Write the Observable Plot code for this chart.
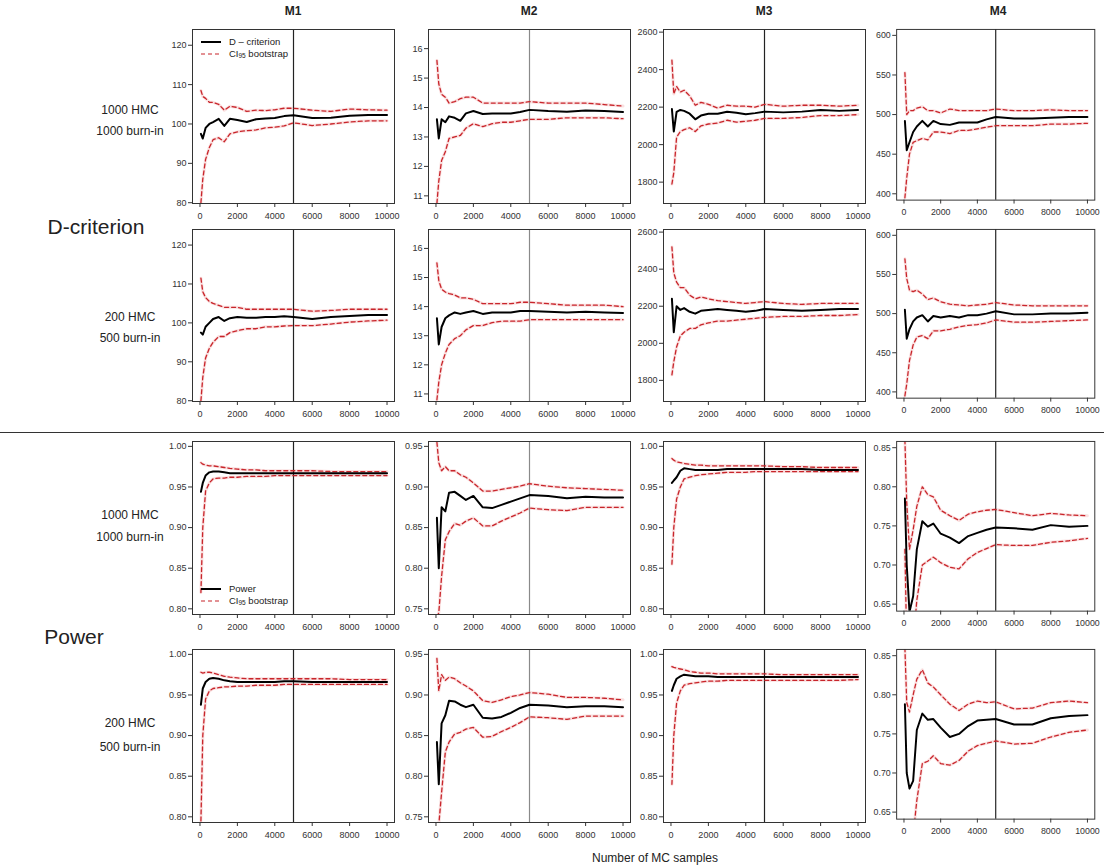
<!DOCTYPE html>
<html>
<head>
<meta charset="utf-8">
<script src="https://cdn.jsdelivr.net/npm/d3@7"></script>
<script src="https://cdn.jsdelivr.net/npm/@observablehq/plot@0.6"></script>
<style>
  html, body { margin: 0; padding: 0; background: #fff; }
  #wrap { position: relative; width: 1110px; height: 867px; overflow: hidden; font-family: "Liberation Sans", Arial, sans-serif; color: #222; }
  .abs { position: absolute; white-space: nowrap; }
  .ct { transform: translate(-50%, -50%); }
  .coltitle { font-weight: bold; font-size: 12px; }
  .rowlab { font-size: 12px; color: #222; }
  .big { font-size: 21px; color: #222; }
  .leg { font-size: 9.5px; color: #222; display: flex; align-items: center; height: 11px; }
  .leg svg { margin-right: 8px; }
  .sub { font-size: 6.5px; position: relative; top: 2px; }
  .panel { position: absolute; }
</style>
</head>
<body>
<div id="wrap"></div>
<script>
// ---------------- DATA ----------------
const xs = [50,150,300,500,700,1000,1300,1600,2000,2500,3000,3500,4000,4500,5000,6000,7000,8000,9000,10000];
const xTickValues = [0,2000,4000,6000,8000,10000];
const models = ["M1","M2","M3","M4"];
const rowLabels = [["1000 HMC","1000 burn-in"],["200 HMC","500 burn-in"],["1000 HMC","1000 burn-in"],["200 HMC","500 burn-in"]];

// D-criterion, 1000 HMC / 1000 burn-in
const D1000_M1_est = [97.5,96.3,99,100,100.5,101.3,99.5,101.3,101,100.5,101.2,101.4,101.5,102,102.2,101.5,101.6,102.1,102.3,102.3];
const D1000_M1_hi  = [108.5,107,106.5,105.5,105.5,105,103.5,104.5,104.2,103.2,103.5,103.4,103.6,104,104,103.5,103.2,103.8,103.6,103.5];
const D1000_M1_lo  = [80,86,91,94,96,96.5,95.5,97.5,98,98.3,98.5,99,99.2,99.5,100.3,99.6,100,100.5,100.8,100.8];
const D1000_M2_est = [13.6,12.95,13.6,13.5,13.7,13.65,13.55,13.8,13.88,13.78,13.8,13.8,13.8,13.85,13.92,13.88,13.86,13.9,13.88,13.85];
const D1000_M2_hi  = [15.6,14.8,14.45,14.35,14.15,14.2,14.3,14.35,14.35,14.15,14.15,14.15,14.15,14.15,14.2,14.15,14.15,14.15,14.1,14.05];
const D1000_M2_lo  = [10.75,11.5,12.2,12.5,12.95,13.0,13.05,13.3,13.45,13.35,13.45,13.5,13.5,13.55,13.6,13.6,13.65,13.65,13.65,13.62];
const D1000_M3_est = [2190,2070,2175,2185,2180,2165,2135,2155,2165,2165,2175,2170,2162,2168,2176,2172,2176,2185,2180,2185];
const D1000_M3_hi  = [2450,2270,2310,2280,2290,2260,2210,2225,2215,2195,2210,2205,2205,2200,2215,2205,2210,2210,2205,2210];
const D1000_M3_lo  = [1790,1850,2040,2070,2080,2090,2070,2100,2110,2115,2130,2120,2125,2130,2140,2140,2145,2155,2155,2160];
const D1000_M4_est = [492,455,465,478,485,492,485,492,488,487,490,490,490,494,497,495,495,496,497,497];
const D1000_M4_hi  = [553,500,505,505,508,510,505,505,502,507,505,505,505,505,507,505,505,506,505,505];
const D1000_M4_lo  = [395,420,450,465,467,470,468,478,478,476,480,480,482,484,486,486,486,488,488,489];

// D-criterion, 200 HMC / 500 burn-in
const D200_M1_est = [97.5,97,99,100,101,101.5,100.5,101.2,101.5,101.3,101.3,101.5,101.5,101.7,101.5,101,101.5,101.8,102,102];
const D200_M1_hi  = [111.5,108,106.5,105.5,105,104.5,104,104,104,103.5,103.5,103.5,103.5,103.5,103.5,103,103.2,103.5,103.5,103.5];
const D200_M1_lo  = [80,86,91,93.5,95,96.5,96.5,97.5,98,98.5,98.5,99,99,99.2,99.3,99.3,99.7,100.2,100.5,100.7];
const D200_M2_est = [13.6,12.7,13.3,13.6,13.7,13.8,13.75,13.8,13.85,13.75,13.8,13.8,13.8,13.85,13.85,13.82,13.8,13.82,13.8,13.78];
const D200_M2_hi  = [15.5,14.9,14.6,14.5,14.45,14.4,14.3,14.3,14.25,14.1,14.1,14.1,14.1,14.15,14.15,14.1,14.05,14.05,14.05,14.0];
const D200_M2_lo  = [10.8,11.4,12.0,12.4,12.7,12.9,13.0,13.2,13.35,13.35,13.45,13.5,13.5,13.5,13.55,13.55,13.55,13.55,13.55,13.55];
const D200_M3_est = [2240,2060,2200,2180,2190,2170,2160,2175,2180,2185,2180,2175,2170,2175,2185,2180,2175,2180,2185,2185];
const D200_M3_hi  = [2520,2380,2330,2300,2300,2260,2240,2250,2240,2230,2225,2220,2215,2220,2225,2215,2210,2215,2215,2215];
const D200_M3_lo  = [1830,1900,1980,2040,2060,2080,2080,2100,2110,2120,2120,2125,2130,2135,2140,2145,2145,2150,2150,2155];
const D200_M4_est = [505,468,480,490,495,498,490,497,495,497,495,498,498,500,503,499,499,500,500,501];
const D200_M4_hi  = [570,545,530,528,530,525,518,520,515,512,511,510,511,512,514,511,510,510,510,510];
const D200_M4_lo  = [395,410,440,460,470,472,468,478,478,480,483,485,486,488,492,489,489,490,491,492];

// Power, 1000 HMC / 1000 burn-in
const P1000_M1_est = [0.944,0.955,0.964,0.968,0.969,0.969,0.968,0.967,0.967,0.967,0.967,0.967,0.967,0.967,0.967,0.967,0.967,0.967,0.967,0.967];
const P1000_M1_hi  = [0.980,0.978,0.977,0.976,0.976,0.975,0.974,0.973,0.972,0.971,0.971,0.970,0.970,0.970,0.970,0.970,0.969,0.969,0.969,0.969];
const P1000_M1_lo  = [0.820,0.900,0.945,0.955,0.960,0.961,0.961,0.962,0.962,0.963,0.963,0.963,0.964,0.964,0.964,0.964,0.964,0.964,0.964,0.964];
const P1000_M2_est = [0.862,0.800,0.875,0.870,0.893,0.894,0.889,0.884,0.889,0.875,0.874,0.878,0.882,0.886,0.890,0.889,0.886,0.888,0.887,0.887];
const P1000_M2_hi  = [0.955,0.930,0.920,0.925,0.920,0.920,0.915,0.912,0.905,0.895,0.895,0.897,0.899,0.901,0.904,0.901,0.899,0.898,0.897,0.896];
const P1000_M2_lo  = [0.740,0.745,0.790,0.835,0.845,0.855,0.853,0.858,0.862,0.852,0.852,0.858,0.863,0.868,0.874,0.872,0.871,0.875,0.875,0.875];
const P1000_M3_est = [0.955,0.958,0.962,0.970,0.973,0.972,0.971,0.971,0.971,0.971,0.972,0.972,0.972,0.972,0.972,0.972,0.972,0.971,0.971,0.971];
const P1000_M3_hi  = [0.985,0.983,0.981,0.980,0.979,0.978,0.977,0.977,0.976,0.976,0.976,0.976,0.976,0.976,0.976,0.975,0.975,0.974,0.974,0.974];
const P1000_M3_lo  = [0.855,0.900,0.935,0.950,0.960,0.962,0.964,0.965,0.966,0.967,0.968,0.968,0.968,0.969,0.969,0.969,0.969,0.969,0.969,0.969];
const P1000_M4_est = [0.785,0.700,0.640,0.660,0.720,0.756,0.749,0.753,0.740,0.735,0.728,0.737,0.741,0.745,0.748,0.747,0.745,0.751,0.749,0.750];
const P1000_M4_hi  = [0.860,0.780,0.720,0.745,0.775,0.800,0.790,0.787,0.770,0.763,0.757,0.765,0.768,0.770,0.771,0.767,0.763,0.766,0.764,0.763];
const P1000_M4_lo  = [0.720,0.600,0.600,0.600,0.655,0.700,0.705,0.710,0.703,0.697,0.695,0.708,0.716,0.721,0.726,0.725,0.725,0.729,0.731,0.734];

// Power, 200 HMC / 500 burn-in
const P200_M1_est = [0.938,0.958,0.966,0.970,0.971,0.970,0.968,0.967,0.966,0.966,0.966,0.966,0.966,0.967,0.967,0.966,0.966,0.966,0.966,0.966];
const P200_M1_hi  = [0.978,0.977,0.978,0.978,0.977,0.975,0.973,0.972,0.971,0.970,0.970,0.970,0.970,0.970,0.970,0.970,0.970,0.969,0.969,0.969];
const P200_M1_lo  = [0.795,0.900,0.945,0.955,0.958,0.959,0.960,0.960,0.961,0.961,0.962,0.962,0.962,0.963,0.963,0.963,0.963,0.963,0.963,0.963];
const P200_M2_est = [0.842,0.790,0.865,0.875,0.893,0.892,0.888,0.885,0.888,0.872,0.871,0.873,0.878,0.884,0.888,0.887,0.885,0.886,0.886,0.885];
const P200_M2_hi  = [0.945,0.905,0.925,0.918,0.922,0.920,0.915,0.911,0.905,0.893,0.891,0.894,0.898,0.900,0.903,0.901,0.897,0.897,0.896,0.894];
const P200_M2_lo  = [0.740,0.740,0.780,0.830,0.842,0.852,0.854,0.858,0.860,0.848,0.849,0.855,0.860,0.866,0.873,0.872,0.870,0.874,0.874,0.874];
const P200_M3_est = [0.955,0.962,0.970,0.973,0.975,0.974,0.973,0.973,0.973,0.972,0.972,0.972,0.972,0.972,0.972,0.972,0.972,0.972,0.972,0.972];
const P200_M3_hi  = [0.985,0.984,0.983,0.982,0.981,0.979,0.978,0.977,0.977,0.976,0.976,0.976,0.976,0.976,0.976,0.975,0.975,0.975,0.975,0.975];
const P200_M3_lo  = [0.840,0.900,0.940,0.955,0.962,0.964,0.965,0.966,0.967,0.967,0.968,0.968,0.968,0.968,0.968,0.968,0.968,0.968,0.968,0.969];
const P200_M4_est = [0.788,0.700,0.680,0.690,0.755,0.776,0.768,0.769,0.758,0.746,0.750,0.760,0.767,0.768,0.769,0.762,0.762,0.770,0.773,0.774];
const P200_M4_hi  = [0.860,0.790,0.778,0.800,0.820,0.832,0.815,0.810,0.800,0.788,0.780,0.788,0.792,0.790,0.791,0.782,0.783,0.790,0.792,0.790];
const P200_M4_lo  = [0.600,0.600,0.600,0.620,0.665,0.712,0.715,0.722,0.712,0.710,0.716,0.728,0.735,0.738,0.741,0.737,0.738,0.746,0.752,0.755];

// y tick values per model (D-criterion rows, Power rows)
const dTicks = [[80,90,100,110,120],[11,12,13,14,15,16],[1800,2000,2200,2400,2600],[400,450,500,550,600]];
const pTicks = [[0.80,0.85,0.90,0.95,1.00],[0.75,0.80,0.85,0.90,0.95],[0.80,0.85,0.90,0.95,1.00],[0.65,0.70,0.75,0.80,0.85]];
const dDomains = [[79.8,124],[10.74,16.65],[1686,2614],[392,607.5]];
const pDomains = [[0.793,1.006],[0.743,0.956],[0.793,1.006],[0.641,0.858]];

// ---------------- LAYOUT ----------------
const colLeft = [192, 428, 663, 897];
const frameW = 202;
const rowTop = [29, 229, 441, 649];
const rowH = [174, 172, 173, 173];
const ML = 45, MR = 16, MT = 3, MB = 28;

const wrap = document.getElementById("wrap");
const FONT = "'Liberation Sans', Arial, sans-serif";

function panel(est, lo, hi, domain, yTicks, fmt, ruleColor, w, h) {
  const data = xs.map((x, i) => ({x, est: est[i], lo: lo[i], hi: hi[i]}));
  const red = "#c8252b", halo = "#fae1e1";
  return Plot.plot({
    width: w + ML + MR,
    height: h + MT + MB,
    marginLeft: ML, marginRight: MR, marginTop: MT, marginBottom: MB,
    x: {domain: [-400, 10400], axis: null},
    y: {domain, axis: null},
    style: {fontFamily: FONT, fontSize: "9px", color: "#333", background: "transparent", overflow: "visible"},
    marks: [
      Plot.lineY(data, {x: "x", y: "hi", stroke: halo, strokeWidth: 3, clip: true}),
      Plot.lineY(data, {x: "x", y: "lo", stroke: halo, strokeWidth: 3, clip: true}),
      Plot.ruleX([5000], {stroke: ruleColor, strokeWidth: 1.2}),
      Plot.lineY(data, {x: "x", y: "hi", stroke: red, strokeWidth: 1.3, strokeDasharray: "4,3", clip: true}),
      Plot.lineY(data, {x: "x", y: "lo", stroke: red, strokeWidth: 1.3, strokeDasharray: "4,3", clip: true}),
      Plot.lineY(data, {x: "x", y: "est", stroke: "#000", strokeWidth: 2, clip: true}),
      Plot.frame({stroke: "#333", strokeWidth: 1}),
      Plot.axisX(xTickValues, {tickSize: 4, tickPadding: 5, tickFormat: d => String(d), label: null, stroke: "#333", fill: "#333"}),
      Plot.axisY(yTicks, {tickSize: 4, tickPadding: 2, tickFormat: fmt, label: null, stroke: "#333", fill: "#333"})
    ]
  });
}

const allData = {
  D1000: [[D1000_M1_est,D1000_M1_lo,D1000_M1_hi],[D1000_M2_est,D1000_M2_lo,D1000_M2_hi],[D1000_M3_est,D1000_M3_lo,D1000_M3_hi],[D1000_M4_est,D1000_M4_lo,D1000_M4_hi]],
  D200:  [[D200_M1_est,D200_M1_lo,D200_M1_hi],[D200_M2_est,D200_M2_lo,D200_M2_hi],[D200_M3_est,D200_M3_lo,D200_M3_hi],[D200_M4_est,D200_M4_lo,D200_M4_hi]],
  P1000: [[P1000_M1_est,P1000_M1_lo,P1000_M1_hi],[P1000_M2_est,P1000_M2_lo,P1000_M2_hi],[P1000_M3_est,P1000_M3_lo,P1000_M3_hi],[P1000_M4_est,P1000_M4_lo,P1000_M4_hi]],
  P200:  [[P200_M1_est,P200_M1_lo,P200_M1_hi],[P200_M2_est,P200_M2_lo,P200_M2_hi],[P200_M3_est,P200_M3_lo,P200_M3_hi],[P200_M4_est,P200_M4_lo,P200_M4_hi]]
};
const rowKeys = ["D1000","D200","P1000","P200"];

rowKeys.forEach((key, r) => {
  const isD = r < 2;
  for (let c = 0; c < 4; c++) {
    const [est, lo, hi] = allData[key][c];
    const domain = isD ? dDomains[c] : pDomains[c];
    const ticks = isD ? dTicks[c] : pTicks[c];
    const fmt = isD ? (d => String(d)) : (d => d.toFixed(2));
    const ruleColor = c === 1 ? "#8a8a8a" : "#222";
    const svg = panel(est, lo, hi, domain, ticks, fmt, ruleColor, frameW, rowH[r]);
    const div = document.createElement("div");
    div.className = "panel";
    div.style.left = (colLeft[c] - ML) + "px";
    div.style.top = (rowTop[r] - MT) + "px";
    div.appendChild(svg);
    wrap.appendChild(div);
  }
});

function addText(text, x, y, cls) {
  const d = document.createElement("div");
  d.className = "abs ct " + cls;
  d.style.left = x + "px";
  d.style.top = y + "px";
  d.textContent = text;
  wrap.appendChild(d);
}

// column titles
models.forEach((m, c) => addText(m, colLeft[c] + frameW / 2, 11, "coltitle"));

// row labels
const rowLabelY = [[110,131],[317,338],[515,537],[723,747]];
rowLabels.forEach((lab, r) => {
  addText(lab[0], 130, rowLabelY[r][0], "rowlab");
  addText(lab[1], 130, rowLabelY[r][1], "rowlab");
});

addText("D-criterion", 96, 227, "big");
addText("Power", 74, 637, "big");
addText("Number of MC samples", 655, 858, "rowlab");

// separator line
const sep = document.createElement("div");
sep.className = "abs";
sep.style.cssText = "left:0px;top:432px;width:1104px;height:0;border-top:1px solid #333;";
wrap.appendChild(sep);

// legends
function legend(x, y, mainLabel) {
  const box = document.createElement("div");
  box.className = "abs";
  box.style.left = x + "px";
  box.style.top = y + "px";
  box.innerHTML =
    `<div class="leg"><svg width="20" height="6"><line x1="0" y1="3" x2="20" y2="3" stroke="#000" stroke-width="2"/></svg>${mainLabel}</div>` +
    `<div class="leg" style="margin-top:1px"><svg width="20" height="6"><line x1="0" y1="3" x2="20" y2="3" stroke="#c8252b" stroke-width="1.2" stroke-dasharray="4,3"/></svg>CI<span class="sub">95</span>&nbsp;bootstrap</div>`;
  wrap.appendChild(box);
}
legend(201, 36, "D \u2013 criterion");
legend(201, 583, "Power");
</script>
</body>
</html>
